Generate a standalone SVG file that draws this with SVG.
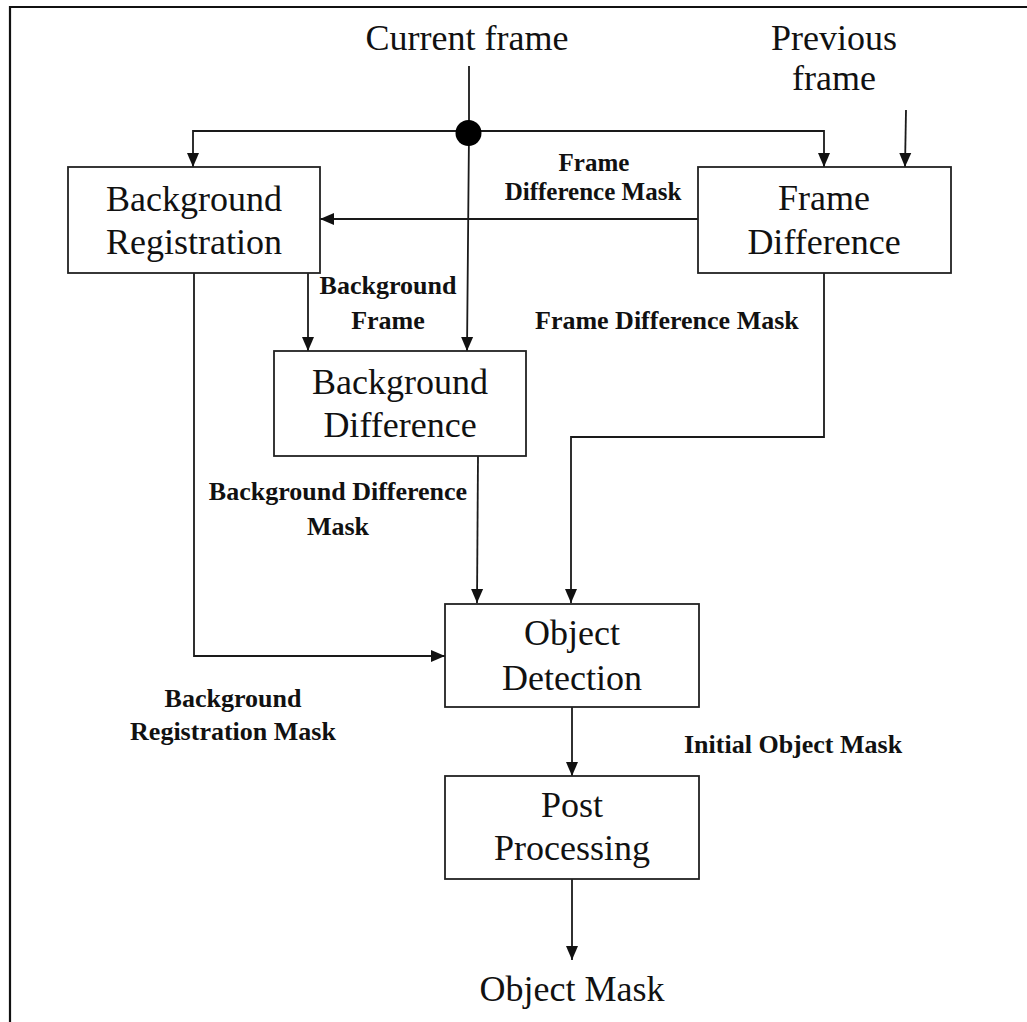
<svg xmlns="http://www.w3.org/2000/svg" width="1027" height="1022" viewBox="0 0 1027 1022">
<style>
.box{fill:#fff;stroke:#222;stroke-width:1.8}
.ln{fill:none;stroke:#1a1a1a;stroke-width:1.8}
.big{font-family:"Liberation Serif","Times New Roman",serif;font-size:36px;fill:#111;text-anchor:middle}
.sm{font-family:"Liberation Serif","Times New Roman",serif;font-size:26px;font-weight:bold;fill:#111}
.mid{text-anchor:middle}
.tight{font-size:25px}
</style>
<defs>
<marker id="ah" markerUnits="userSpaceOnUse" markerWidth="15" markerHeight="15" viewBox="0 0 15 15" refX="14" refY="7.5" orient="auto">
<path d="M0,1.5 L14,7.5 L0,13.5 Z" fill="#111"/>
</marker>
</defs>
<rect width="1027" height="1022" fill="#fff"/>
<path d="M10,1022 V7 H1027" fill="none" stroke="#111" stroke-width="2.2"/>

<g id="connectors">
<path class="ln" d="M469,131 H193 V167" marker-end="url(#ah)"/>
<path class="ln" d="M469,131 H824 V167" marker-end="url(#ah)"/>
<path class="ln" d="M469,66 V133 L467,351" marker-end="url(#ah)"/>
<path class="ln" d="M906,110 L905,167" marker-end="url(#ah)"/>
<path class="ln" d="M698,219 H320" marker-end="url(#ah)"/>
<path class="ln" d="M308,273 V351" stroke-width="2.4" marker-end="url(#ah)"/>
<path class="ln" d="M478,456 L477,603" marker-end="url(#ah)"/>
<path class="ln" d="M824,273 V437 H571 V603" marker-end="url(#ah)"/>
<path class="ln" d="M194,273 V656 H445" marker-end="url(#ah)"/>
<path class="ln" d="M572,707 V776" marker-end="url(#ah)"/>
<path class="ln" d="M572,879 V960" marker-end="url(#ah)"/>
<circle cx="468.5" cy="133" r="13" fill="#000"/>
</g>

<g id="current-frame"><text class="big" x="467" y="50">Current frame</text></g>
<g id="previous-frame"><text class="big" x="834" y="50">Previous</text><text class="big" x="834" y="90">frame</text></g>

<g id="background-registration">
<rect class="box" x="68" y="167" width="252" height="106"/>
<text class="big" x="194" y="211">Background</text>
<text class="big" x="194" y="254">Registration</text>
</g>

<g id="frame-difference">
<rect class="box" x="698" y="167" width="253" height="106"/>
<text class="big" x="824" y="210">Frame</text>
<text class="big" x="824" y="254">Difference</text>
</g>

<g id="background-difference">
<rect class="box" x="274" y="351" width="252" height="105"/>
<text class="big" x="400" y="394">Background</text>
<text class="big" x="400" y="437">Difference</text>
</g>

<g id="object-detection">
<rect class="box" x="445" y="604" width="254" height="103"/>
<text class="big" x="572" y="645">Object</text>
<text class="big" x="572" y="690">Detection</text>
</g>

<g id="post-processing">
<rect class="box" x="445" y="776" width="254" height="103"/>
<text class="big" x="572" y="817">Post</text>
<text class="big" x="572" y="860">Processing</text>
</g>

<g id="object-mask"><text class="big" x="572" y="1001">Object Mask</text></g>

<g id="labels">
<text class="sm mid tight" x="594" y="171">Frame</text>
<text class="sm mid tight" x="593" y="200">Difference Mask</text>
<text class="sm mid" x="388" y="294">Background</text>
<text class="sm mid" x="388" y="329">Frame</text>
<text class="sm" x="535" y="329">Frame Difference Mask</text>
<text class="sm mid" x="338" y="500">Background Difference</text>
<text class="sm mid" x="338" y="535">Mask</text>
<text class="sm mid" x="233" y="707">Background</text>
<text class="sm mid" x="233" y="740">Registration Mask</text>
<text class="sm" x="684" y="753">Initial Object Mask</text>
</g>
</svg>
